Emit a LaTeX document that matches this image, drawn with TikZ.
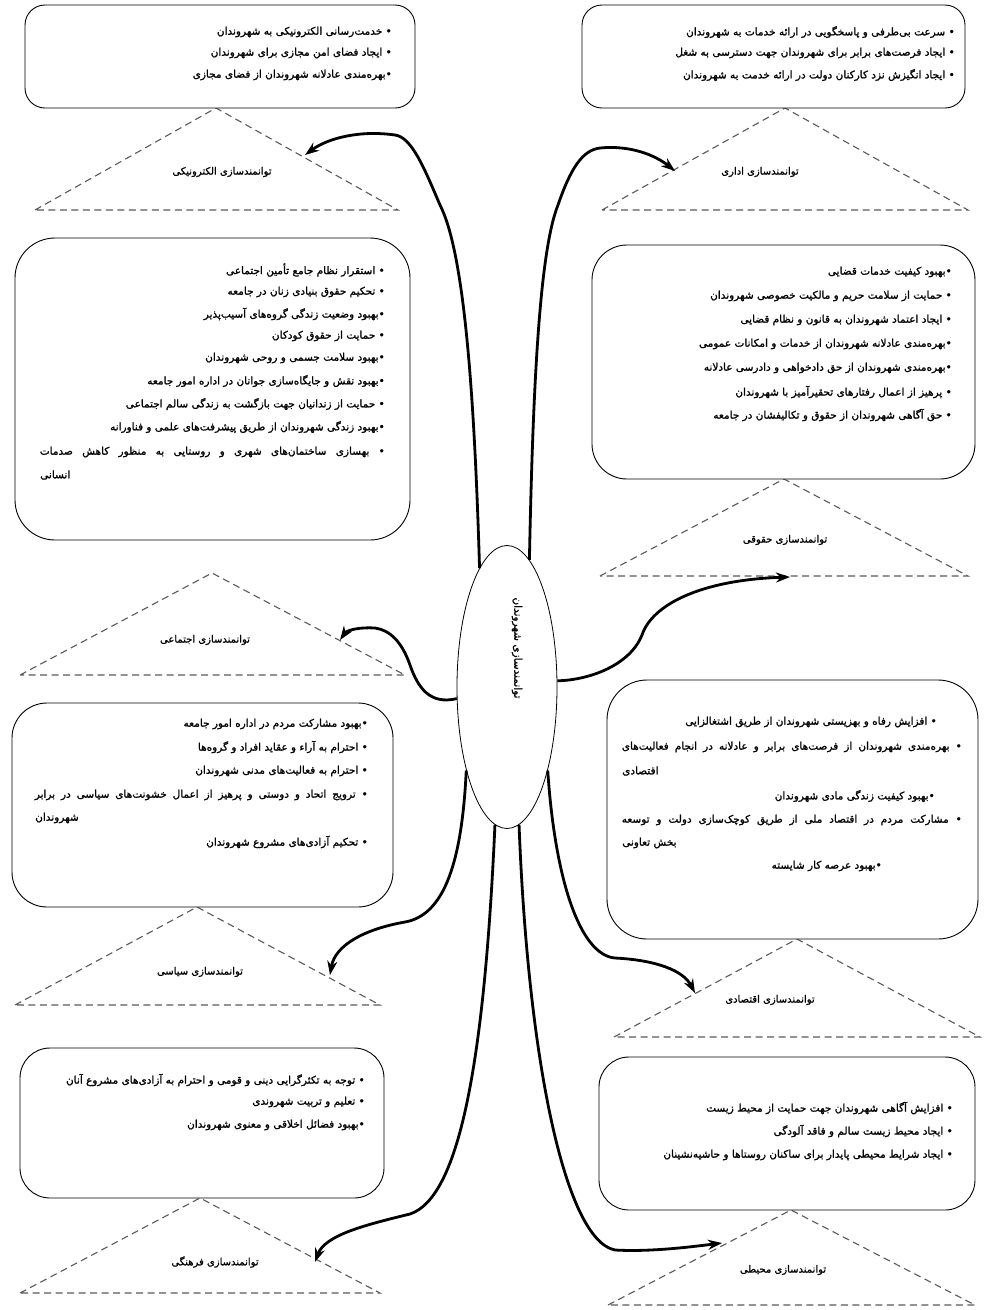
\documentclass[tikz,border=0pt]{standalone}
\usepackage{fontspec}
\usetikzlibrary{shapes.geometric}
\usetikzlibrary{arrows.meta}
\newfontfamily\fa[Script=Arabic,FakeBold=1.2]{DejaVu Sans}
\TeXXeTstate=1
\newcommand\zw{^^^^200c}

\begin{document}
\begin{tikzpicture}[x=1pt,y=-1pt,
    card/.style={draw, line width=0.9pt, fill=white, inner sep=0pt},
    wing/.style={draw=black!65, line width=1.1pt, dash pattern=on 7pt off 4.5pt},
    item/.style={font=\fa\fontsize{10.5}{12}\selectfont, inner sep=0pt},
    tag/.style={font=\fa\fontsize{10}{12}\selectfont, inner sep=0pt},
    pull/.style={line width=2.8pt, -{Stealth[length=14pt,width=10pt]}}]
        \useasboundingbox (0,0) rectangle (991,1310);

        % dashed triangles
        \draw[wing] (35,210) -- (216,108) -- (398,210) -- cycle;
        \draw[wing] (602,210) -- (785,108) -- (968,210) -- cycle;
        \draw[wing] (20,675) -- (212,573) -- (405,675) -- cycle;
        \draw[wing] (600,576) -- (784,479) -- (968,576) -- cycle;
        \draw[wing] (15,1005) -- (197,907) -- (380,1005) -- cycle;
        \draw[wing] (614,1037) -- (797,939) -- (980,1037) -- cycle;
        \draw[wing] (20,1293) -- (200,1198) -- (380,1293) -- cycle;
        \draw[wing] (608,1305) -- (791,1210) -- (975,1305) -- cycle;

        \node[tag] (elecTag) at (222,172) {\beginR توانمندسازی الکترونیکی\endR};
        \node[tag] (admTag) at (760,172) {\beginR توانمندسازی اداری\endR};
        \node[tag] (socTag) at (205,640) {\beginR توانمندسازی اجتماعی\endR};
        \node[tag] (lawTag) at (785,540) {\beginR توانمندسازی حقوقی\endR};
        \node[tag] (polTag) at (200,972) {\beginR توانمندسازی سیاسی\endR};
        \node[tag] (econTag) at (770,1000) {\beginR توانمندسازی اقتصادی\endR};
        \node[tag] (cultTag) at (215,1262) {\beginR توانمندسازی فرهنگی\endR};
        \node[tag] (envTag) at (783,1270) {\beginR توانمندسازی محیطی\endR};

        % boxes
        \node[card, rounded corners=20pt, minimum width=390pt, minimum height=103pt] (elecBox) at (220,56.5) {};
        \node[card, rounded corners=20pt, minimum width=383pt, minimum height=103pt] (admBox) at (773.5,56.5) {};
        \node[card, rounded corners=40pt, minimum width=395pt, minimum height=302pt] (socBox) at (212.5,389) {};
        \node[card, rounded corners=35pt, minimum width=383pt, minimum height=234pt] (lawBox) at (783.5,362) {};
        \node[card, rounded corners=35pt, minimum width=381pt, minimum height=204pt] (polBox) at (202.5,805) {};
        \node[card, rounded corners=40pt, minimum width=371pt, minimum height=259pt] (econBox) at (792.5,809.5) {};
        \node[card, rounded corners=30pt, minimum width=364pt, minimum height=150pt] (cultBox) at (202,1123) {};
        \node[card, rounded corners=30pt, minimum width=376pt, minimum height=153pt] (envBox) at (787,1133.5) {};

        \node[item, anchor=east] (elec1) at (392,32) {\beginR • خدمت\zw رسانی الکترونیکی به شهروندان\endR};
        \node[item, anchor=east] (elec2) at (392,53) {\beginR • ایجاد فضای امن مجازی برای شهروندان\endR};
        \node[item, anchor=east] (elec3) at (392,75) {\beginR •بهره\zw مندی عادلانه شهروندان از فضای مجازی\endR};

        \node[item, anchor=east] (adm1) at (955,32) {\beginR • سرعت بی\zw طرفی و پاسخگویی در ارائه خدمات به شهروندان\endR};
        \node[item, anchor=east] (adm2) at (955,53) {\beginR • ایجاد فرصت\zw های برابر برای شهروندان جهت دسترسی به شغل\endR};
        \node[item, anchor=east] (adm3) at (955,75) {\beginR • ایجاد انگیزش نزد کارکنان دولت در ارائه خدمت به شهروندان\endR};

        \node[item, anchor=east] (soc1) at (385,270) {\beginR • استقرار نظام جامع تأمین اجتماعی\endR};
        \node[item, anchor=east] (soc2) at (385,292) {\beginR • تحکیم حقوق بنیادی زنان در جامعه\endR};
        \node[item, anchor=east] (soc3) at (385,314) {\beginR •بهبود وضعیت زندگی گروه\zw های آسیب\zw پذیر\endR};
        \node[item, anchor=east] (soc4) at (385,336) {\beginR • حمایت از حقوق کودکان\endR};
        \node[item, anchor=east] (soc5) at (385,358) {\beginR •بهبود سلامت جسمی و روحی شهروندان\endR};
        \node[item, anchor=east] (soc6) at (385,381) {\beginR •بهبود نقش و جایگاه\zw سازی جوانان در اداره امور جامعه\endR};
        \node[item, anchor=east] (soc7) at (385,404) {\beginR • حمایت از زندانیان جهت بازگشت به زندگی سالم اجتماعی\endR};
        \node[item, anchor=east] (soc8) at (385,427) {\beginR •بهبود زندگی شهروندان از طریق پیشرفت\zw های علمی و فناورانه\endR};
        \node[item, anchor=east] (soc9) at (385,452) {\hbox to 345pt{\beginR • بهسازی ساختمان\zw های شهری و روستایی به منظور کاهش صدمات\endR}};
        \node[item, anchor=west] (soc10) at (40,475) {\beginR انسانی\endR};

        \node[item, anchor=east] (law1) at (952,272) {\beginR •بهبود کیفیت خدمات قضایی\endR};
        \node[item, anchor=east] (law2) at (952,296) {\beginR • حمایت از سلامت حریم و مالکیت خصوصی شهروندان\endR};
        \node[item, anchor=east] (law3) at (952,320) {\beginR • ایجاد اعتماد شهروندان به قانون و نظام قضایی\endR};
        \node[item, anchor=east] (law4) at (952,344) {\beginR •بهره\zw مندی عادلانه شهروندان از خدمات و امکانات عمومی\endR};
        \node[item, anchor=east] (law5) at (952,368) {\beginR •بهره\zw مندی شهروندان از حق دادخواهی و دادرسی عادلانه\endR};
        \node[item, anchor=east] (law6) at (952,392) {\beginR • پرهیز از اعمال رفتارهای تحقیرآمیز با شهروندان\endR};
        \node[item, anchor=east] (law7) at (952,415) {\beginR • حق آگاهی شهروندان از حقوق و تکالیفشان در جامعه\endR};

        \node[item, anchor=east] (pol1) at (368,724) {\beginR •بهبود مشارکت مردم در اداره امور جامعه\endR};
        \node[item, anchor=east] (pol2) at (368,747) {\beginR • احترام به آراء و عقاید افراد و گروه\zw ها\endR};
        \node[item, anchor=east] (pol3) at (368,771) {\beginR • احترام به فعالیت\zw های مدنی شهروندان\endR};
        \node[item, anchor=east] (pol4) at (368,795) {\hbox to 333pt{\beginR • ترویج اتحاد و دوستی و پرهیز از اعمال خشونت\zw های سیاسی در برابر\endR}};
        \node[item, anchor=west] (pol5) at (35,818) {\beginR شهروندان\endR};
        \node[item, anchor=east] (pol6) at (368,842) {\beginR • تحکیم آزادی\zw های مشروع شهروندان\endR};

        \node[item, anchor=east] (econ1) at (937,722) {\beginR • افزایش رفاه و بهزیستی شهروندان از طریق اشتغالزایی\endR};
        \node[item, anchor=east] (econ2) at (962,747) {\hbox to 340pt{\beginR • بهره\zw مندی شهروندان از فرصت\zw های برابر و عادلانه در انجام فعالیت\zw های\endR}};
        \node[item, anchor=west] (econ3) at (622,771) {\beginR اقتصادی\endR};
        \node[item, anchor=east] (econ4) at (935,796) {\beginR •بهبود کیفیت زندگی مادی شهروندان\endR};
        \node[item, anchor=east] (econ5) at (962,820) {\hbox to 340pt{\beginR • مشارکت مردم در اقتصاد ملی از طریق کوچک\zw سازی دولت و توسعه\endR}};
        \node[item, anchor=west] (econ6) at (622,843) {\beginR بخش تعاونی\endR};
        \node[item, anchor=east] (econ7) at (882,866) {\beginR •بهبود عرصه کار شایسته\endR};

        \node[item, anchor=east] (cult1) at (365,1080) {\beginR • توجه به تکثرگرایی دینی و قومی و احترام به آزادی\zw های مشروع آنان\endR};
        \node[item, anchor=east] (cult2) at (365,1102) {\beginR • تعلیم و تربیت شهروندی\endR};
        \node[item, anchor=east] (cult3) at (365,1125) {\beginR •بهبود فضائل اخلاقی و معنوی شهروندان\endR};

        \node[item, anchor=east] (env1) at (953,1108) {\beginR • افزایش آگاهی شهروندان جهت حمایت از محیط زیست\endR};
        \node[item, anchor=east] (env2) at (953,1131) {\beginR • ایجاد محیط زیست سالم و فاقد آلودگی\endR};
        \node[item, anchor=east] (env3) at (953,1155) {\beginR • ایجاد شرایط محیطی پایدار برای ساکنان روستاها و حاشیه\zw نشینان\endR};

        % centre
        \node[ellipse, draw, line width=0.8pt, minimum width=100pt, minimum height=283pt, inner sep=0pt] (hub) at (507,687) {};
        \node[item, rotate=-90] (hubText) at (517,648) {\beginR توانمندسازی شهروندان\endR};

        \coordinate (elecTip) at (305,155);
        \coordinate (admTip) at (675,171);
        \coordinate (socTip) at (340,640);
        \coordinate (lawTip) at (790,577);
        \coordinate (polTip) at (330,975);
        \coordinate (econTip) at (695,993);
        \coordinate (cultTip) at (315,1262);
        \coordinate (envTip) at (722,1243);

        \draw[pull] (hub.103) .. controls (474,380) and (463,250) .. (440,205) .. controls (425,170) and (412,137) .. (395,135) .. controls (360,130) and (328,138) .. (elecTip);
        \draw[pull] (hub.80) .. controls (533,380) and (540,250) .. (558,205) .. controls (570,170) and (582,150) .. (600,148) .. controls (630,145) and (655,155) .. (admTip);
        \draw[pull] (hub.193) .. controls (430,705) and (418,688) .. (410,665) .. controls (402,642) and (390,630) .. (375,628) .. controls (360,627) and (347,630) .. (socTip);
        \draw[pull] (hub.7) .. controls (590,680) and (630,665) .. (642,635) .. controls (652,605) and (700,580) .. (lawTip);
        \draw[pull] (hub.244) .. controls (462,860) and (445,915) .. (405,922) .. controls (365,929) and (335,945) .. (polTip);
        \draw[pull] (hub.296) .. controls (555,880) and (580,955) .. (615,958) .. controls (655,960) and (683,970) .. (econTip);
        \draw[pull] (hub.265) .. controls (484,1070) and (458,1198) .. (410,1214) .. controls (365,1225) and (325,1235) .. (cultTip);
        \draw[pull] (hub.275) .. controls (528,1060) and (565,1240) .. (615,1250) .. controls (650,1252) and (690,1247) .. (envTip);
\end{tikzpicture}
\end{document}
